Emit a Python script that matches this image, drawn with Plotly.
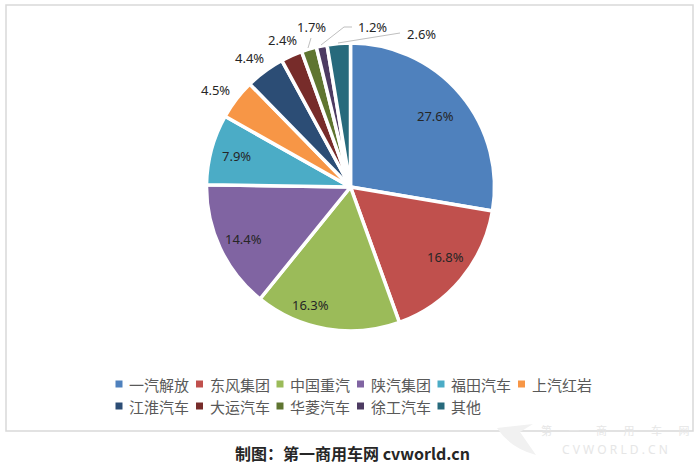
import plotly.graph_objects as go

names = ["一汽解放", "东风集团", "中国重汽", "陕汽集团", "福田汽车", "上汽红岩",
         "江淮汽车", "大运汽车", "华菱汽车", "徐工汽车", "其他"]
shares = [27.6, 16.8, 16.3, 14.4, 7.9, 4.5, 4.4, 2.4, 1.7, 1.2, 2.6]
colors = ["#4F81BD", "#C0504D", "#9BBB59", "#8064A2", "#4BACC6", "#F79646",
          "#2C4D75", "#772C2A", "#5F7530", "#4D3B62", "#276A7C"]

W, H = 700, 466
# pie box in pixels
cx, cy, r = 350.5, 187, 144
LABEL_FONT = "Noto Sans, Liberation Sans, sans-serif"
CJK_FONT = "Noto Sans CJK SC"

# plotly can't drag pie labels, so they are all placed here
label_pos = [(435, 116), (445, 257), (310, 305), (243, 239), (236, 156),
             (215, 90), (249, 58), (282, 40), (311, 27), (372, 27), (421, 34)]
leaders = [
    [(308, 48), (311, 38)],
    [(321, 45), (344, 27), (352, 27)],
    [(338, 43), (400, 33)],
]


def px(x):
    return x / W


def py(y):
    return 1 - y / H


def note(x, y, text, font, anchor="center"):
    return dict(x=px(x), y=py(y), xref="paper", yref="paper", text=text, showarrow=False,
                xanchor=anchor, yanchor="middle", font=font)


fig = go.Figure(go.Pie(
    labels=names,
    values=shares,
    textinfo="none",
    marker=dict(colors=colors, line=dict(color="white", width=3.5)),
    sort=False,
    direction="clockwise",
    rotation=0,
    showlegend=False,
    domain=dict(x=[px(cx - r), px(cx + r)], y=[py(cy + r), py(cy - r)]),
))

annotations = []
shapes = []

for (x, y), v in zip(label_pos, shares):
    annotations.append(note(x, y, f"{v}%", dict(family=LABEL_FONT, size=13, color="#262626")))

for pts in leaders:
    for a, b in zip(pts, pts[1:]):
        shapes.append(dict(type="line", xref="paper", yref="paper",
                           x0=px(a[0]), y0=py(a[1]), x1=px(b[0]), y1=py(b[1]),
                           line=dict(color="#BFBFBF", width=1)))

# legend, two rows of six and five
for i, (name, c) in enumerate(zip(names, colors)):
    x = 119 + 80.5 * (i % 6)
    y = 384 + 22 * (i // 6)
    shapes.append(dict(type="rect", xref="paper", yref="paper",
                       x0=px(x - 3.5), y0=py(y - 3.5), x1=px(x + 3.5), y1=py(y + 3.5),
                       fillcolor=c, line=dict(width=0)))
    annotations.append(note(x + 8, y, name, dict(family=CJK_FONT, size=15, color="#595959"),
                            anchor="left"))

# frame
shapes.append(dict(type="rect", xref="paper", yref="paper",
                   x0=px(6), y0=py(431), x1=px(693), y1=py(5),
                   line=dict(color="#D9D9D9", width=1.5)))

annotations.append(note(352, 453, "<b>制图：第一商用车网 cvworld.cn</b>",
                        dict(family=CJK_FONT, size=16, color="#262626")))

# faint watermark, bottom right
shapes.append(dict(type="path", xref="paper", yref="paper",
                   path=f"M {px(497)} {py(428)} L {px(533)} {py(424)} L {px(520)} {py(432)} "
                        f"L {px(536)} {py(455)} Q {px(510)} {py(448)} {px(497)} {py(428)} Z",
                   fillcolor="#F1F1F1", line=dict(width=0)))
annotations.append(note(615, 430, "\u2003\u2002".join("第一商用车网"),
                        dict(family=CJK_FONT, size=11, color="#E6E6E6")))
annotations.append(note(615, 449, "C V W O R L D . C N",
                        dict(family=LABEL_FONT, size=12, color="#E6E6E6")))

fig.update_layout(
    width=W,
    height=H,
    margin=dict(l=0, r=0, t=0, b=0),
    paper_bgcolor="white",
    plot_bgcolor="white",
    annotations=annotations,
    shapes=shapes,
)

fig.write_html("out.html", config=dict(displayModeBar=False),
               post_script="document.body.style.margin='0';")
